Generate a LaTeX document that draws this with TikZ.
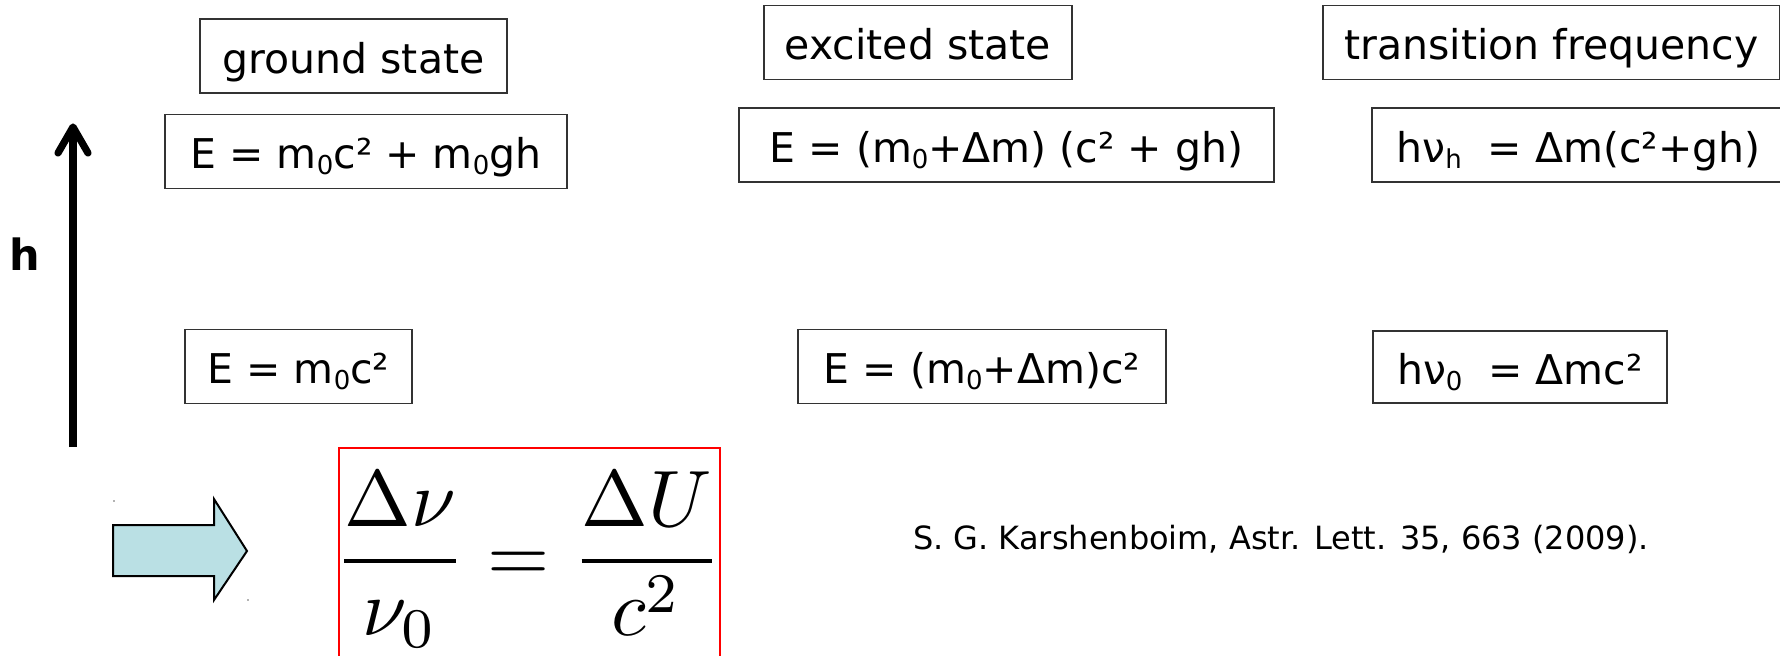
\documentclass[tikz,border=0pt]{standalone}
\usepackage[no-math]{fontspec}
\usepackage{graphicx}
\newfontfamily\dvs{DejaVu Sans}
\newcommand\sbs[1]{\raisebox{-3pt}{\fontsize{13}{13}\selectfont #1}}
\definecolor{arrowfill}{RGB}{186,224,228}
\tikzset{
  lbl/.style={draw=black!80, line width=0.75pt, inner sep=0pt, minimum height=37pt,
    text height=17pt, text depth=0pt, font=\dvs\fontsize{20.5}{24}\selectfont},
  thickline/.style={line width=3.6pt},
}
\begin{document}
\begin{tikzpicture}[x=0.5pt,y=-0.5pt]
\useasboundingbox (0,0) rectangle (1780,655);
\fill[white] (0,0) rectangle (1780,655);
\clip (0,0) rectangle (1780,655);

% column headers
\node[lbl, minimum width=153.5pt] (gs) at (353.5,56) {ground state};
\node[lbl, minimum width=154pt] (ex) at (918,42.5) {excited state};
\node[lbl, minimum width=228.5pt] (tf) at (1551.5,42.5) {transition frequency};

% upper level
\node[lbl, minimum width=201pt] (e1) at (366,151.5) {E = m\sbs{0}c² + m\sbs{0}gh};
\node[lbl, minimum width=267.5pt] (e2) at (1006.5,145) {E = (m\sbs{0}+Δm) (c² + gh)};
\node[lbl, minimum width=206.5pt] (nh) at (1578.5,145) {hν\sbs{h}\ \ = Δm(c²+gh)};

% lower level
\node[lbl, minimum width=113.5pt] (e3) at (298.5,366.5) {E = m\sbs{0}c²};
\node[lbl, minimum width=184pt] (e4) at (982,366.5) {E = (m\sbs{0}+Δm)c²};
\node[lbl, minimum width=147pt, minimum height=36pt] (n0) at (1520,367) {hν\sbs{0}\ \ = Δmc²};

% height arrow
\coordinate (abot) at (73,447);
\coordinate (atop) at (73,127);
\coordinate (bl) at (58,153);
\coordinate (br) at (88,153);
\draw[thickline] (abot) -- (atop);
\draw[thickline, line cap=round, line join=round] (bl) -- (atop) -- (br);
\node[anchor=base, inner sep=0pt, font=\dvs\bfseries\fontsize{21.5}{24}\selectfont] (hl) at (25,270) {h};

% block arrow
\draw[fill=arrowfill, line width=1pt, line join=miter]
  (113,525) -- (214,525) -- (214,499) -- (247,551) -- (214,600) -- (214,576) -- (113,576) -- cycle;
\fill[black!60] (114,501) circle (0.9);
\fill[black!60] (248,600) circle (0.9);

% result
\draw[red, line width=0.8pt] (339,448) rectangle (720,700);
\node[anchor=base, inner sep=0pt] (eq) at (528,581)
  {\scalebox{4.0}{$\displaystyle\frac{\Delta\nu}{\nu_0}=\frac{\Delta U}{c^2}$}};

% citation
\node[anchor=base, inner sep=0pt, font=\dvs\fontsize{16}{19}\selectfont] (cite) at (1281,549)
  {S. G. Karshenboim, Astr. Lett. 35, 663 (2009).};
\end{tikzpicture}
\end{document}
